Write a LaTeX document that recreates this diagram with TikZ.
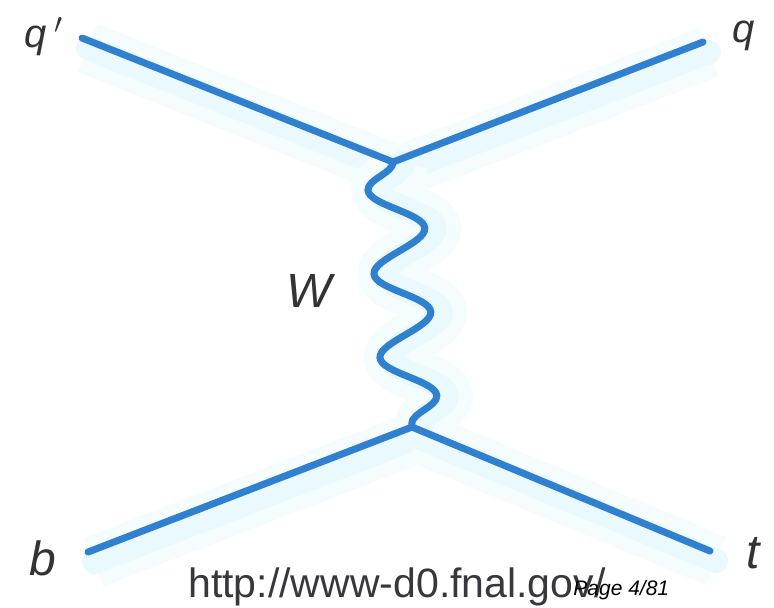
\documentclass[tikz,border=0pt]{standalone}
\usepackage{fontspec}
\setmainfont{Liberation Sans}
\usepackage{tikz}
\usetikzlibrary{decorations.pathmorphing,calc}
\definecolor{wireblue} {RGB}{48,128,208}
\definecolor{haloblue} {RGB}{234,249,253}
\definecolor{halofaint}{RGB}{245,252,254}
\definecolor{urlgray}  {RGB}{55,55,60}
\tikzset{
  fermion/.style={draw=wireblue, line width=3.5pt, line cap=round},
  wiggle/.style ={decorate, decoration={snake, mirror, segment length=42pt,
                              amplitude=13.5pt}},
  boson/.style  ={fermion, wiggle},
  halo/.style   ={draw=haloblue, line width=12pt, line cap=round,
                  preaction={draw=halofaint, line width=26pt}},
  plabel/.style ={font=\fontsize{24}{28}\selectfont\itshape,
                  text=black!80, inner sep=0pt},
  qlabel/.style ={plabel, font=\fontsize{20}{24}\selectfont\itshape},
  urltext/.style={font=\fontsize{20.5}{24}\selectfont, text=urlgray,
                  inner sep=0pt},
  pagetext/.style={font=\fontsize{10.5}{12}\selectfont\itshape,
                  inner sep=0pt},
}
\begin{document}
\begin{tikzpicture}[x=0.5pt,y=-0.5pt]
  \useasboundingbox (0,0) rectangle (774,607);
  \fill[white] (0,0) rectangle (774,607);
  %% vertices and external legs
  \coordinate (vtop) at (393,162);
  \coordinate (vbot) at (412,427);
  \coordinate (qpin) at (82,38);
  \coordinate (qout) at (703,42);
  \coordinate (bin)  at (88,552);
  \coordinate (tout) at (710,551);
  %% soft glow under the lines
  \foreach \a/\b in {qpin/vtop,vtop/qout,bin/vbot,vbot/tout}
    \draw[halo] ($(\a)+(6,10)$) -- ($(\b)+(6,10)$);
  \draw[halo,wiggle] ($(vtop)+(10,0)$) -- ($(vbot)+(10,0)$);
  %% lines
  \draw[fermion] (qpin) -- (vtop);
  \draw[fermion] (vtop) -- (qout);
  \draw[fermion] (bin) -- (vbot);
  \draw[fermion] (vbot) -- (tout);
  \draw[boson] (vtop) -- (vbot);
  %% labels
  \node[qlabel, anchor=base west] (lqp) at (24,47) {q\kern4pt\raisebox{-1pt}{$'$}};
  \node[qlabel, anchor=base west] (lq)  at (732,42) {q};
  \node[plabel, anchor=base west] (lw)  at (286,307) {W};
  \node[plabel, anchor=base west] (lb)  at (29,575) {b};
  \node[plabel, anchor=base west] (lt)  at (746,568) {t};
  \node[urltext, anchor=base west] (url) at (188,597) {http://www-d0.fnal.gov/};
  \node[pagetext, anchor=base west] (page) at (573,595) {Page 4/81};
\end{tikzpicture}
\end{document}
